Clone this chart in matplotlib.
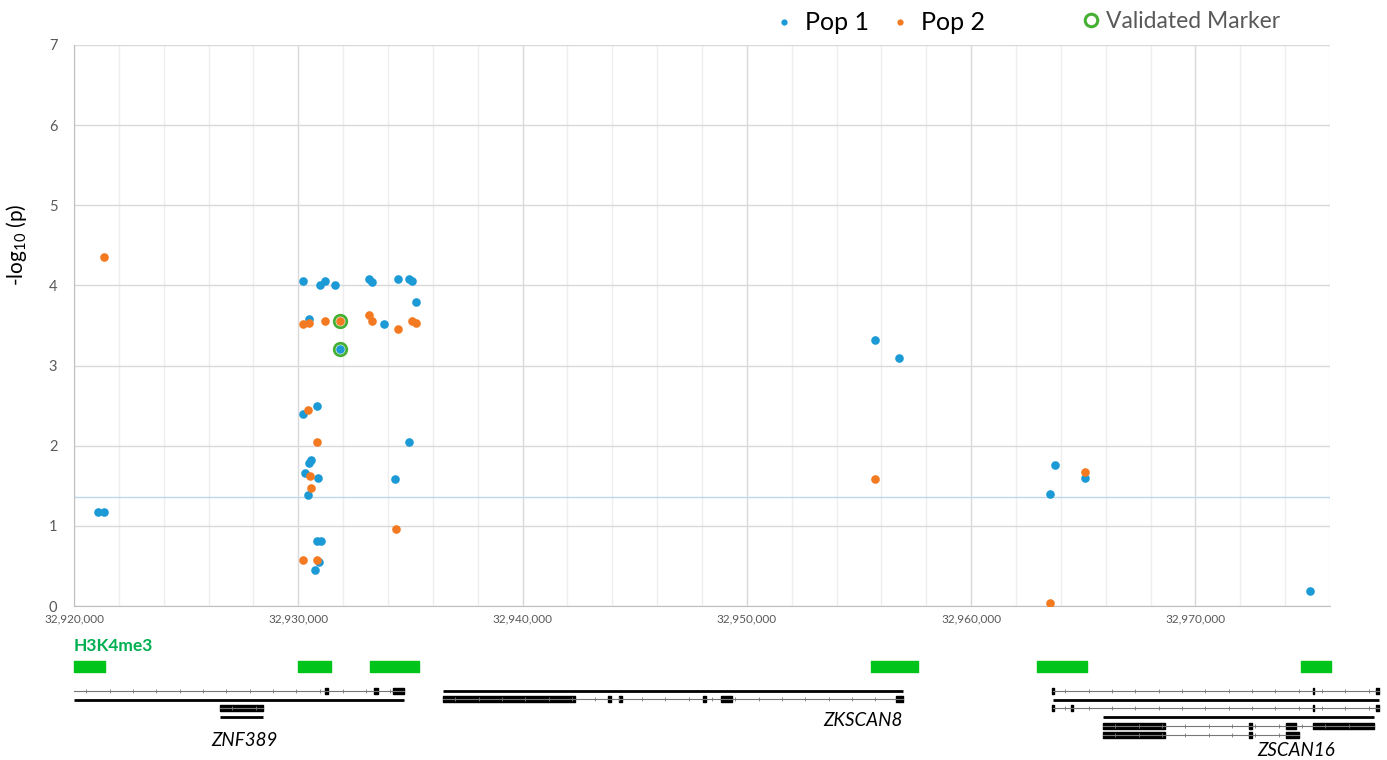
import numpy as np
import matplotlib
matplotlib.use('Agg')
import matplotlib.pyplot as plt
from matplotlib.lines import Line2D
from matplotlib.ticker import FuncFormatter, MultipleLocator

plt.rcParams['font.family'] = ['Lato', 'DejaVu Sans']
plt.rcParams['mathtext.fontset'] = 'custom'
plt.rcParams['mathtext.rm'] = 'Lato'

# SNP positions (bp) and -log10(p)
pop1_pos = [32921070, 32921340, 32930210, 32930970, 32931190, 32931640, 32933150, 32933290,
            32934450, 32934940, 32935070, 32935250, 32930480, 32933820, 32931860, 32930840,
            32930210, 32934940, 32930570, 32930480, 32930300, 32930880, 32934310, 32930430,
            32930840, 32931010, 32930920, 32930750, 32955720, 32956790, 32963520, 32963740,
            32965080, 32975110]
pop1_logp = [1.17, 1.17, 4.06, 4.00, 4.06, 4.01, 4.08, 4.04,
             4.08, 4.08, 4.06, 3.79, 3.58, 3.52, 3.21, 2.50,
             2.40, 2.05, 1.82, 1.78, 1.66, 1.60, 1.58, 1.39,
             0.81, 0.81, 0.55, 0.45, 3.32, 3.09, 1.40, 1.76,
             1.60, 0.19]

pop2_pos = [32921340, 32930210, 32930480, 32931190, 32931860, 32933150, 32933290, 32934450,
            32935070, 32935250, 32930430, 32930840, 32930520, 32930570, 32930210, 32930840,
            32934360, 32955720, 32965080, 32963520]
pop2_logp = [4.35, 3.52, 3.53, 3.56, 3.56, 3.63, 3.56, 3.46,
             3.56, 3.53, 2.45, 2.05, 1.62, 1.47, 0.57, 0.57,
             0.96, 1.58, 1.67, 0.04]

validated_pos = [32931860, 32931860]
validated_logp = [3.56, 3.21]

threshold = 1.36

# H3K4me3 peaks
peak_start = [32920000, 32930000, 32933200, 32955550, 32962950, 32974720]
peak_end = [32921380, 32931460, 32935390, 32957650, 32965180, 32976060]

# transcripts: kind 'line' = solid bar, 'gene' = intron line with exons
tx_kind = ['gene', 'line', 'gene', 'line',
           'line', 'gene',
           'gene', 'line', 'gene', 'line', 'gene', 'gene']
tx_start = [32920000, 32920000, 32926510, 32926510,
            32936455, 32936455,
            32963655, 32963655, 32963655, 32965885, 32965885, 32965885]
tx_end = [32934715, 32934715, 32928430, 32928430,
          32956965, 32956965,
          32978190, 32978190, 32978190, 32977970, 32977970, 32974625]
tx_exons = [
    [(32931190, 32931330), (32933375, 32933555), (32934225, 32934715)],
    [],
    [(32926510, 32928430)],
    [],
    [],
    [(32936455, 32942340), (32943800, 32943950), (32944290, 32944420), (32948040, 32948180),
     (32948850, 32949340), (32956650, 32956965)],
    [(32963620, 32963710), (32975220, 32975290), (32978055, 32978190)],
    [],
    [(32963620, 32963710), (32964460, 32964540), (32975220, 32975290), (32978055, 32978190)],
    [],
    [(32965885, 32968650), (32972400, 32972520), (32974045, 32974490), (32975250, 32977970)],
    [(32965885, 32968650), (32972400, 32972520), (32974045, 32974625)],
]
tx_row = [691, 700, 708, 717, 691, 699, 691, 700, 708, 717, 726, 735]

gene_names = ['ZNF389', 'ZKSCAN8', 'ZSCAN16']
gene_label_x = [32927600, 32956965, 32974500]
gene_label_y = [740, 721, 750]
gene_label_ha = ['center', 'right', 'center']

blue = '#1c9ad6'
orange = '#f47a22'
green = '#45b034'
grey_txt = '#595959'

fig = plt.figure(figsize=(13.87, 7.6), dpi=100)
ax = fig.add_axes([74 / 1387, 154 / 760, 1256 / 1387, 561 / 760])

ax.axhline(threshold, color='#bdd7ee', lw=1, zorder=1)
ax.plot(pop1_pos, pop1_logp, 'o', color=blue, ms=6.2, mew=0, zorder=3)
ax.plot(pop2_pos, pop2_logp, 'o', color=orange, ms=6.2, mew=0, zorder=3)
ax.plot(validated_pos, validated_logp, 'o', mfc='none', mec=green, ms=9, mew=2, zorder=4)

ax.set_xlim(32920000, 32976000)
ax.set_ylim(0, 7)
ax.xaxis.set_major_locator(MultipleLocator(10000))
ax.xaxis.set_minor_locator(MultipleLocator(2000))
ax.yaxis.set_major_locator(MultipleLocator(1))
ax.xaxis.set_major_formatter(FuncFormatter(lambda v, p: f'{int(v):,}'))
ax.grid(which='major', color='#d9d9d9', lw=1, zorder=0)
ax.grid(which='minor', axis='x', color='#eeeeee', lw=1, zorder=0)
ax.set_axisbelow(True)
ax.tick_params(which='both', length=0)
ax.tick_params(axis='y', labelsize=10.5, labelcolor=grey_txt, pad=12)
ax.tick_params(axis='x', labelsize=8.5, labelcolor=grey_txt, pad=5)
for s in ['top', 'right']:
    ax.spines[s].set_visible(False)
for s in ['left', 'bottom']:
    ax.spines[s].set_color('#bfbfbf')

ax.set_ylabel('-log$_{10}$ (p)', fontsize=15, color='black')
ax.yaxis.set_label_coords(-0.036, 0.643)

# legends
h1 = [Line2D([], [], ls='none', marker='o', color=blue, ms=4.5, mew=0),
      Line2D([], [], ls='none', marker='o', color=orange, ms=4.5, mew=0)]
leg1 = fig.legend(h1, ['Pop 1', 'Pop 2'], loc='center', bbox_to_anchor=(880 / 1387, 1 - 23 / 760),
                  ncol=2, frameon=False, fontsize=18, handlelength=0.7, handletextpad=0.5,
                  columnspacing=0.9)
h2 = [Line2D([], [], ls='none', marker='o', mfc='none', mec=green, ms=9, mew=2.2)]
leg2 = fig.legend(h2, ['Validated Marker'], loc='center', bbox_to_anchor=(1181 / 1387, 1 - 22 / 760),
                  frameon=False, fontsize=16.5, handlelength=0.8, handletextpad=0.25,
                  labelcolor=grey_txt)

# gene track
axg = fig.add_axes([74 / 1387, 0, 1256 / 1387, 135 / 760])
axg.set_xlim(32920000, 32976000)
axg.set_ylim(760, 625)
axg.axis('off')

axg.text(32920000, 646, 'H3K4me3', color='#00b050', fontsize=12.5, fontweight='bold',
         ha='left', va='center')
axg.broken_barh([(s, e - s) for s, e in zip(peak_start, peak_end)], (661, 11),
                color='#00c41a', clip_on=False)

for kind, s, e, exons, row in zip(tx_kind, tx_start, tx_end, tx_exons, tx_row):
    if kind == 'line':
        axg.plot([s, e], [row, row], color='black', lw=2, solid_capstyle='butt', clip_on=False)
        continue
    axg.plot([s, e], [row, row], color='#777777', lw=0.8, clip_on=False)
    ticks = np.arange(s + 550, e - 300, 1040)
    axg.plot(ticks, [row] * len(ticks), '|', color='#777777', ms=2.5, mew=0.6, clip_on=False)
    axg.broken_barh([(a, b - a) for a, b in exons], (row - 3, 6), color='black', clip_on=False)

for name, x, y, ha in zip(gene_names, gene_label_x, gene_label_y, gene_label_ha):
    axg.text(x, y, name, fontsize=13.5, style='italic', ha=ha, va='center', clip_on=False)

fig.savefig('out.png', dpi=100)
